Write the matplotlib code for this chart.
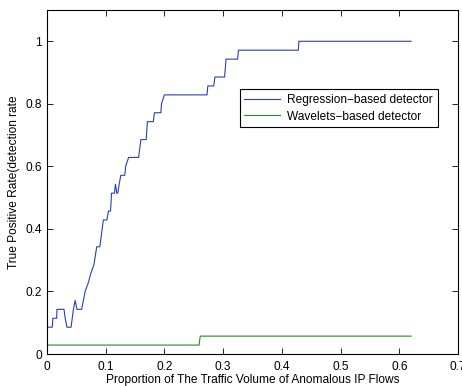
import matplotlib
matplotlib.use('Agg')
import matplotlib.pyplot as plt

plt.rcParams['font.family'] = ['Liberation Sans', 'DejaVu Sans']

# regression-based detector (x = traffic proportion, y = detection rate)
reg_x = [0.0, 0.009, 0.010, 0.0165, 0.017, 0.029, 0.031, 0.034, 0.041, 0.045, 0.048,
         0.051, 0.059, 0.062, 0.065, 0.0705, 0.0745, 0.080, 0.0847, 0.090, 0.092,
         0.096, 0.102, 0.1047, 0.1082, 0.110, 0.115, 0.1166, 0.119, 0.1206, 0.1229,
         0.1258, 0.1325, 0.134, 0.139, 0.156, 0.158, 0.160,
         0.169, 0.171, 0.181, 0.183, 0.194, 0.195, 0.200, 0.2725, 0.274, 0.284, 0.286,
         0.3025, 0.305, 0.3247, 0.326, 0.428, 0.429, 0.62]
reg_y = [3/35, 3/35, 4/35, 4/35, 5/35, 5/35, 4/35, 3/35, 3/35, 5/35, 6/35,
         5/35, 5/35, 6/35, 7/35, 8/35, 9/35, 10/35, 12/35, 12/35, 13/35,
         15/35, 15/35, 16/35, 16/35, 18/35, 18/35, 19/35, 18/35, 18/35, 19/35,
         20/35, 20/35, 21/35, 22/35, 22/35, 23/35, 24/35,
         24/35, 26/35, 26/35, 27/35, 27/35, 28/35, 29/35, 29/35, 30/35, 30/35, 31/35,
         31/35, 33/35, 33/35, 34/35, 34/35, 1.0, 1.0]

# wavelets-based detector
wav_x = [0.0, 0.259, 0.261, 0.62]
wav_y = [1/35, 1/35, 2/35, 2/35]

xticks = [0, 0.1, 0.2, 0.3, 0.4, 0.5, 0.6, 0.7]
xticklabels = ['0', '0.1', '0.2', '0.3', '0.4', '0.5', '0.6', '0.7']
yticks = [0, 0.2, 0.4, 0.6, 0.8, 1.0]
yticklabels = ['0', '0.2', '0.4', '0.6', '0.8', '1']

fig = plt.figure(figsize=(4.62, 3.86), dpi=100)
ax = fig.add_axes([0.1017, 0.0829, 0.8896, 0.8912])

ax.plot(reg_x, reg_y, color='#2b3fb0', lw=0.8, label='Regression\u2212based detector')
ax.plot(wav_x, wav_y, color='#1f8f1f', lw=0.8, label='Wavelets\u2212based detector')

ax.set_xlim(0, 0.7)
ax.set_ylim(0, 1.1)
ax.set_xticks(xticks)
ax.set_xticklabels(xticklabels)
ax.set_yticks(yticks)
ax.set_yticklabels(yticklabels)
ax.tick_params(direction='in', top=True, right=True, labelsize=8.6, length=4, width=0.6)
ax.tick_params(axis='x', pad=5)
for s in ax.spines.values():
    s.set_linewidth(0.8)

ax.set_xlabel('Proportion of The Traffic Volume of Anomalous IP Flows', fontsize=8.6, labelpad=1)
ax.set_ylabel('True Positive Rate(detection rate', fontsize=8.6, labelpad=4)

leg = ax.legend(loc='upper right', bbox_to_anchor=(0.951, 0.770), fontsize=8.6,
                fancybox=False, edgecolor='black', framealpha=1, borderaxespad=0,
                handlelength=3.0, borderpad=0.4, labelspacing=0.4, handletextpad=0.6)
leg.get_frame().set_linewidth(0.8)

fig.savefig('out.png', dpi=100)
